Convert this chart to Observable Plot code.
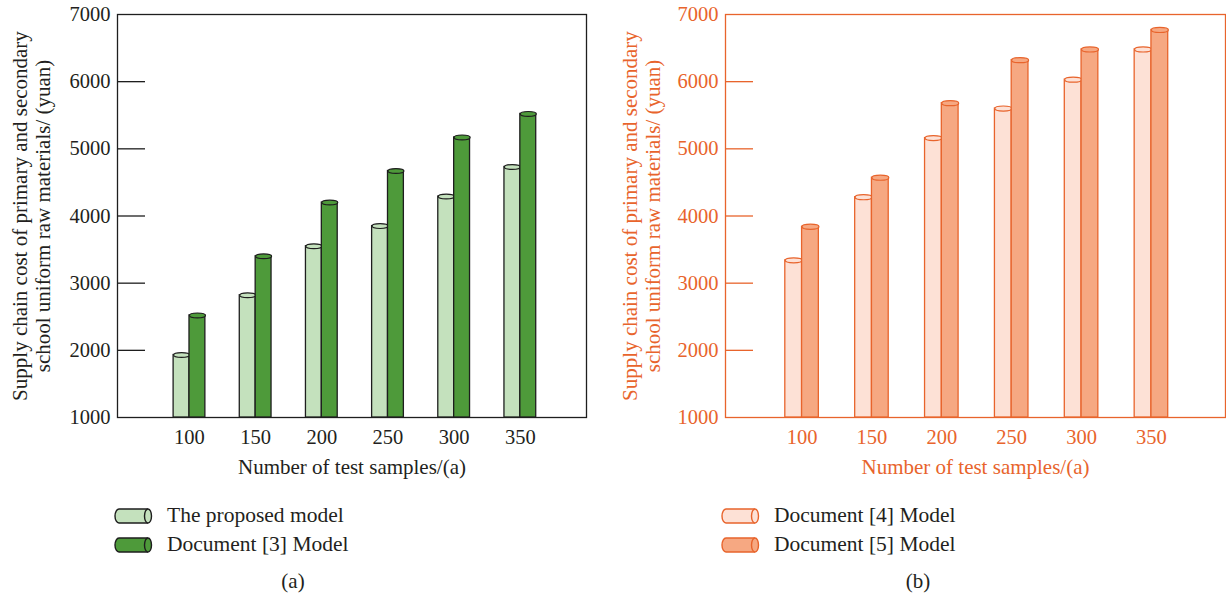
<!DOCTYPE html>
<html>
<head>
<meta charset="utf-8">
<script src="https://cdn.jsdelivr.net/npm/d3@7"></script>
<script src="https://cdn.jsdelivr.net/npm/@observablehq/plot@0.6"></script>
<style>
  html, body { margin: 0; padding: 0; background: #fff; }
  body { width: 1226px; height: 601px; position: relative; overflow: hidden; font-family: "Liberation Serif", "DejaVu Serif", serif; }
  .chart { position: absolute; top: 0; }
  .legend { position: absolute; font-size: 21.5px; color: #231f20; }
  .legend .row { display: flex; align-items: center; height: 29px; }
  .legend svg { margin-right: 14px; }
  .cap { position: absolute; font-size: 21px; color: #231f20; transform: translateX(-50%); }
</style>
</head>
<body>
<div id="a" class="chart" style="left:0px"></div>
<div id="b" class="chart" style="left:610px"></div>
<div id="legA" class="legend" style="left:113px; top:501px"></div>
<div id="legB" class="legend" style="left:720px; top:501px"></div>
<div class="cap" style="left:293px; top:569px">(a)</div>
<div class="cap" style="left:918px; top:569px">(b)</div>
<script>
// ---- data ----
const samples = [100, 150, 200, 250, 300, 350];
const proposedModel = [1930, 2820, 3550, 3850, 4290, 4730];
const document3Model = [2520, 3400, 4200, 4670, 5170, 5520];
const document4Model = [3340, 4280, 5160, 5600, 6030, 6480];
const document5Model = [3840, 4570, 5680, 6320, 6480, 6770];
const yTicks = [1000, 2000, 3000, 4000, 5000, 6000, 7000];
const yTitle = "Supply chain cost of primary and secondary\nschool uniform raw materials/ (yuan)";
const xTitle = "Number of test samples/(a)";

// ellipse symbol for cylinder tops
const ellipseSymbol = {
  draw(ctx, size) {
    const r = Math.sqrt(size / Math.PI), rx = r, ry = r * 0.3, k = 0.5523;
    ctx.moveTo(rx, 0);
    ctx.bezierCurveTo(rx, ry * k, rx * k, ry, 0, ry);
    ctx.bezierCurveTo(-rx * k, ry, -rx, ry * k, -rx, 0);
    ctx.bezierCurveTo(-rx, -ry * k, -rx * k, -ry, 0, -ry);
    ctx.bezierCurveTo(rx * k, -ry, rx, -ry * k, rx, 0);
    ctx.closePath();
  }
};

function makeChart(cfg) {
  const rows = samples.map((s, i) => ({x: s, a: cfg.a[i], b: cfg.b[i]}));
  const half = 12;
  const W = cfg.width, frameW = W - cfg.ml - cfg.mr;
  const barMarks = (key, fill) => [
    Plot.rectY(rows, {x1: d => d.x + (key === "a" ? -half : 0), x2: d => d.x + (key === "a" ? 0 : half),
      y1: 1000, y2: d => d[key], fill, stroke: cfg.stroke, strokeWidth: 1.3}),
    Plot.dot(rows, {x: d => d.x + (key === "a" ? -half / 2 : half / 2), y: d => d[key],
      r: cfg.r, symbol: ellipseSymbol, fill, stroke: cfg.stroke, strokeWidth: 1.2})
  ];
  return Plot.plot({
    width: W, height: 490,
    marginLeft: cfg.ml, marginRight: cfg.mr, marginTop: 14, marginBottom: 73,
    style: {fontFamily: '"Liberation Serif", serif', fontSize: "20.5px", color: cfg.text, background: "transparent"},
    x: {domain: cfg.xdomain, axis: null},
    y: {domain: [1000, 7000], axis: null},
    marks: [
      Plot.frame({stroke: cfg.stroke, strokeWidth: 1.3}),
      Plot.tickY(yTicks.slice(1, -1), {y: d => d, stroke: cfg.stroke, strokeWidth: 1.3, insetRight: frameW - 28}),
      Plot.axisY({ticks: yTicks, tickSize: 0, tickPadding: 7, tickFormat: d => String(d), fontSize: 20.5, fill: cfg.text, label: null}),
      Plot.axisX({ticks: samples, tickSize: 0, tickPadding: 12, tickFormat: d => String(d), fontSize: 20.5, fill: cfg.text, label: null}),
      ...barMarks("a", cfg.fillA),
      ...barMarks("b", cfg.fillB),
      Plot.text([yTitle], {frameAnchor: "left", text: d => d, rotate: -90, dx: cfg.titleDx, lineHeight: 1.1,
        fontSize: 21, fill: cfg.text, lineAnchor: "middle", textAnchor: "middle"}),
      Plot.text([xTitle], {frameAnchor: "bottom", text: d => d, dy: 50, fontSize: 21, fill: cfg.text, lineAnchor: "middle"})
    ]
  });
}

document.getElementById("a").append(makeChart({
  a: proposedModel, b: document3Model, width: 600, ml: 117, mr: 14,
  xdomain: [45.6, 400], fillA: "#c4e1bd", fillB: "#4e9a3a", stroke: "#1e1e1e", text: "#231f20",
  r: 8, titleDx: -86
}));
document.getElementById("b").append(makeChart({
  a: document4Model, b: document5Model, width: 616, ml: 115, mr: 1,
  xdomain: [45.2, 403], fillA: "#fde1d6", fillB: "#f6a882", stroke: "#e8642c", text: "#e8642c",
  r: 8.5, titleDx: -84
}));

function legendIcon(fill, stroke) {
  return `<svg width="40" height="18" viewBox="0 0 40 18"><path d="M35,2 L6,2 A4,7 0 0 0 6,16 L35,16" fill="${fill}" stroke="${stroke}" stroke-width="1.4"/><ellipse cx="35" cy="9" rx="3.5" ry="7" fill="${fill}" stroke="${stroke}" stroke-width="1.4"/></svg>`;
}
const legendA = [["The proposed model", "#c4e1bd"], ["Document [3] Model", "#4e9a3a"]];
const legendB = [["Document [4] Model", "#fde1d6"], ["Document [5] Model", "#f6a882"]];
document.getElementById("legA").innerHTML = legendA.map(([t, f]) => `<div class="row">${legendIcon(f, "#1e1e1e")}<span>${t}</span></div>`).join("");
document.getElementById("legB").innerHTML = legendB.map(([t, f]) => `<div class="row">${legendIcon(f, "#e8642c")}<span>${t}</span></div>`).join("");
</script>
</body>
</html>
